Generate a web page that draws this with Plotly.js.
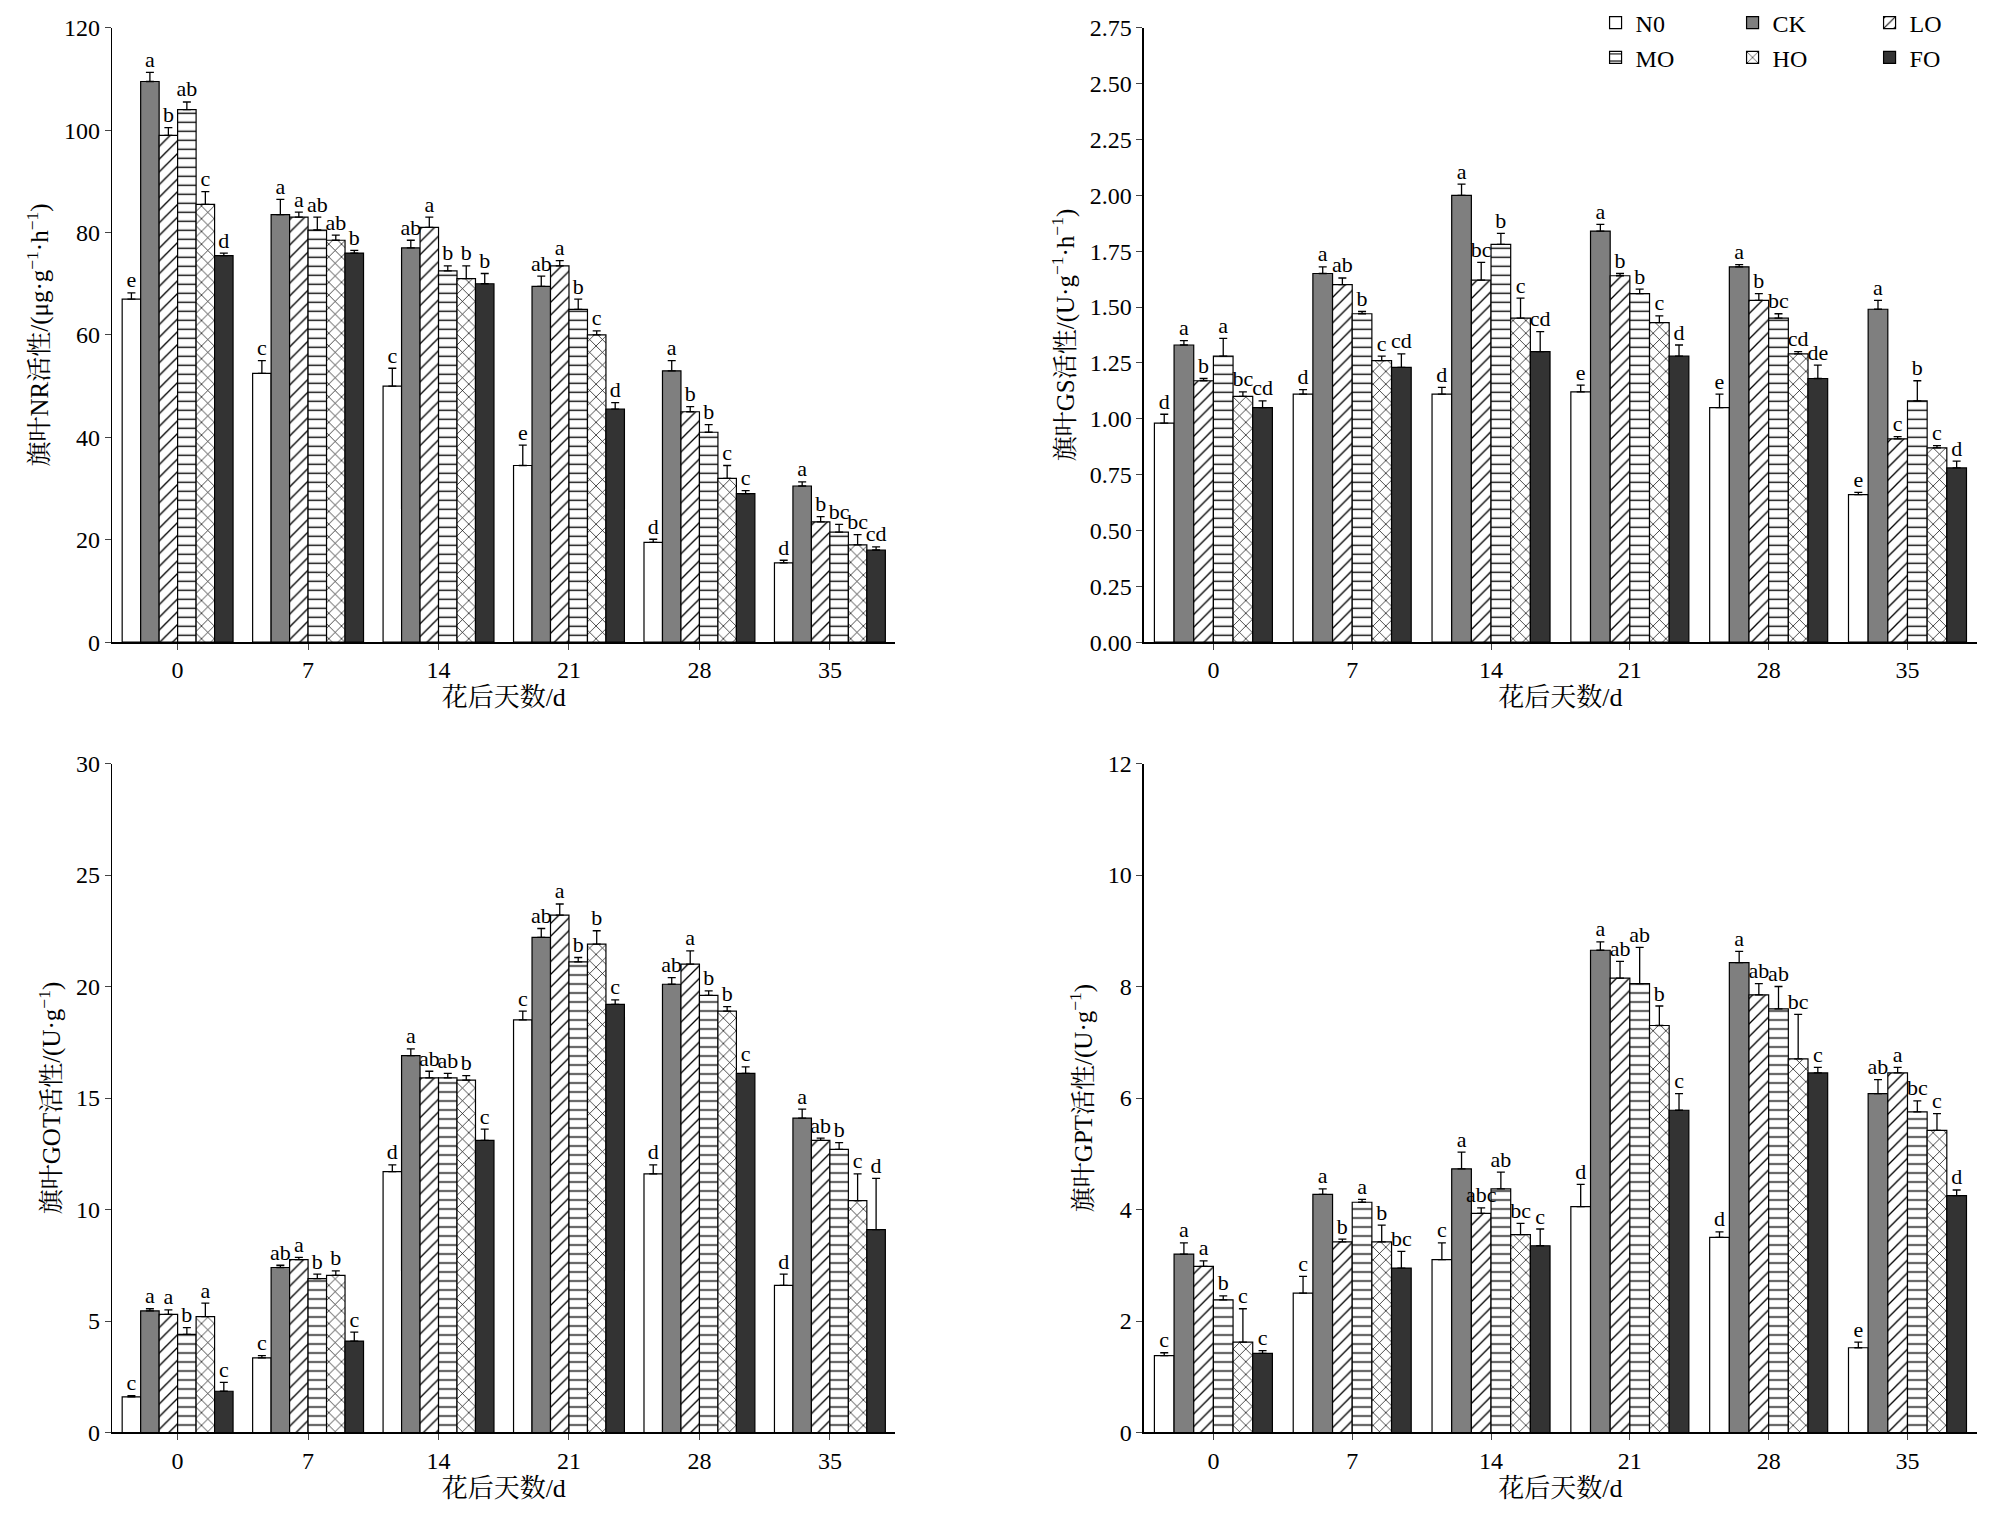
<!DOCTYPE html>
<html><head><meta charset="utf-8">
<script src="https://cdn.plot.ly/plotly-3.0.1.min.js"></script>
<style>body{margin:0;background:#fff}</style></head>
<body><div id="c" style="width:2007px;height:1522px"></div>
<script>
const days = ['0','7','14','21','28','35'];
const treatments = ['N0','CK','LO','MO','HO','FO'];

// NR
const NR_N0=[67,52.5,50,34.5,19.5,15.5], NR_CK=[109.5,83.5,77,69.5,53,30.5], NR_LO=[99,83,81,73.5,45,23.5],
      NR_MO=[104,80.5,72.5,65,41,21.5], NR_HO=[85.5,78.5,71,60,32,19], NR_FO=[75.5,76,70,45.5,29,18];
const NR_eN0=[1.2,2.5,3.5,4,0.6,0.5], NR_eCK=[1.8,3,1.5,2,2,0.8], NR_eLO=[1.5,1,2,1,1,1],
      NR_eMO=[1.5,2.5,1,2,1.5,1.5], NR_eHO=[2.5,1,2.5,0.8,2.5,2], NR_eFO=[0.5,0.5,2,1.3,0.6,0.6];
const NR_L=[['e','c','c','e','d','d'],['a','a','ab','ab','a','a'],['b','a','a','a','b','b'],['ab','ab','b','b','b','bc'],['c','ab','b','c','c','bc'],['d','b','b','d','c','cd']];
// GS
const GS_N0=[0.98,1.11,1.11,1.12,1.05,0.66], GS_CK=[1.33,1.65,2.00,1.84,1.68,1.49], GS_LO=[1.17,1.60,1.62,1.64,1.53,0.91],
      GS_MO=[1.28,1.47,1.78,1.56,1.45,1.08], GS_HO=[1.10,1.26,1.45,1.43,1.29,0.87], GS_FO=[1.05,1.23,1.30,1.28,1.18,0.78];
const GS_eN0=[0.04,0.02,0.03,0.03,0.06,0.01], GS_eCK=[0.02,0.03,0.05,0.03,0.01,0.04], GS_eLO=[0.01,0.03,0.08,0.01,0.03,0.01],
      GS_eMO=[0.08,0.01,0.05,0.02,0.02,0.09], GS_eHO=[0.02,0.02,0.09,0.03,0.01,0.01], GS_eFO=[0.03,0.06,0.09,0.05,0.06,0.03];
const GS_L=[['d','d','d','e','e','e'],['a','a','a','a','a','a'],['b','ab','bc','b','b','c'],['a','b','b','b','bc','b'],['bc','c','c','c','cd','c'],['cd','cd','cd','d','de','d']];
// GOT
const GOT_N0=[1.6,3.35,11.7,18.5,11.6,6.6], GOT_CK=[5.45,7.4,16.9,22.2,20.1,14.1], GOT_LO=[5.3,7.75,15.9,23.2,21.0,13.1],
      GOT_MO=[4.4,6.9,15.9,21.1,19.6,12.7], GOT_HO=[5.2,7.05,15.8,21.9,18.9,10.4], GOT_FO=[1.85,4.1,13.1,19.2,16.1,9.1];
const GOT_eN0=[0.05,0.1,0.3,0.4,0.4,0.5], GOT_eCK=[0.1,0.1,0.3,0.4,0.3,0.4], GOT_eLO=[0.2,0.1,0.3,0.5,0.6,0.1],
      GOT_eMO=[0.3,0.2,0.2,0.2,0.2,0.3], GOT_eHO=[0.6,0.2,0.2,0.6,0.2,1.2], GOT_eFO=[0.4,0.4,0.5,0.2,0.3,2.3];
const GOT_L=[['c','c','d','c','d','d'],['a','ab','a','ab','ab','a'],['a','a','ab','a','a','ab'],['b','b','ab','b','b','b'],['a','b','b','b','b','c'],['c','c','c','c','c','d']];
// GPT
const GPT_N0=[1.38,2.5,3.1,4.05,3.5,1.52], GPT_CK=[3.2,4.27,4.73,8.65,8.43,6.08], GPT_LO=[2.98,3.42,3.93,8.15,7.85,6.45],
      GPT_MO=[2.38,4.13,4.37,8.05,7.6,5.75], GPT_HO=[1.62,3.42,3.55,7.3,6.7,5.42], GPT_FO=[1.42,2.95,3.35,5.78,6.45,4.25];
const GPT_eN0=[0.05,0.3,0.3,0.4,0.1,0.1], GPT_eCK=[0.2,0.1,0.3,0.15,0.2,0.25], GPT_eLO=[0.1,0.05,0.1,0.3,0.2,0.1],
      GPT_eMO=[0.07,0.05,0.3,0.65,0.4,0.2], GPT_eHO=[0.6,0.3,0.2,0.35,0.8,0.3], GPT_eFO=[0.05,0.3,0.3,0.3,0.1,0.1];
const GPT_L=[['c','c','c','d','d','e'],['a','a','a','a','a','ab'],['a','b','abc','ab','ab','a'],['b','a','ab','ab','ab','bc'],['c','b','bc','b','bc','c'],['c','bc','c','c','c','d']];

const panels=[
 {vals:[NR_N0,NR_CK,NR_LO,NR_MO,NR_HO,NR_FO],err:[NR_eN0,NR_eCK,NR_eLO,NR_eMO,NR_eHO,NR_eFO],lab:NR_L,
  title:'旗叶NR活性/(μg·g<sup>−1</sup>·h<sup>−1</sup>)',range:[0,120],dtick:20,fmt:'d'},
 {vals:[GS_N0,GS_CK,GS_LO,GS_MO,GS_HO,GS_FO],err:[GS_eN0,GS_eCK,GS_eLO,GS_eMO,GS_eHO,GS_eFO],lab:GS_L,
  title:'旗叶GS活性/(U·g<sup>−1</sup>·h<sup>−1</sup>)',range:[0,2.75],dtick:0.25,fmt:'.2f'},
 {vals:[GOT_N0,GOT_CK,GOT_LO,GOT_MO,GOT_HO,GOT_FO],err:[GOT_eN0,GOT_eCK,GOT_eLO,GOT_eMO,GOT_eHO,GOT_eFO],lab:GOT_L,
  title:'旗叶GOT活性/(U·g<sup>−1</sup>)',range:[0,30],dtick:5,fmt:'d'},
 {vals:[GPT_N0,GPT_CK,GPT_LO,GPT_MO,GPT_HO,GPT_FO],err:[GPT_eN0,GPT_eCK,GPT_eLO,GPT_eMO,GPT_eHO,GPT_eFO],lab:GPT_L,
  title:'旗叶GPT活性/(U·g<sup>−1</sup>)',range:[0,12],dtick:2,fmt:'d'}
];
const colors=['#ffffff','#7f7f7f','#ffffff','#ffffff','#ffffff','#333333'];
const shapes=['','','/','-','x',''];
const FONT='"Liberation Serif","Noto Serif CJK SC","Noto Sans CJK SC",serif';
const doms={x:[[0.056,0.446],[0.570,0.985],[0.056,0.446],[0.570,0.985]],y:[[0.580,0.985],[0.580,0.985],[0.059,0.500],[0.059,0.500]]};
const data=[];const layout={width:2007,height:1522,margin:{l:0,r:0,t:0,b:0},paper_bgcolor:'#fff',plot_bgcolor:'#fff',
 barmode:'group',bargap:0.15,bargroupgap:0,scattermode:'group',scattergap:0.15,font:{family:FONT,color:'#000',size:24},
 legend:{orientation:'h',x:0.795,y:1.003,xanchor:'left',yanchor:'top',font:{size:24},entrywidth:92,traceorder:'normal',itemwidth:30},
 legend2:{orientation:'h',x:0.795,y:0.980,xanchor:'left',yanchor:'top',font:{size:24},entrywidth:92,traceorder:'normal',itemwidth:30},
 showlegend:true};
panels.forEach((p,pi)=>{
 const s=pi===0?'':String(pi+1);
 const xa='x'+s, ya='y'+s;
 layout['xaxis'+s]={type:'category',domain:doms.x[pi],anchor:ya,showline:true,linecolor:'#000',linewidth:1.5,ticks:'outside',ticklen:6,
   tickfont:{size:24},title:{text:'花后天数/d',font:{size:26},standoff:4},showgrid:false,zeroline:false};
 layout['yaxis'+s]={domain:doms.y[pi],anchor:xa,range:p.range,dtick:p.dtick,tickformat:p.fmt,showline:true,linecolor:'#000',linewidth:1.5,
   ticks:'outside',ticklen:6,tickfont:{size:24},title:{text:p.title,font:{size:25},standoff:8},showgrid:false,zeroline:false};
 treatments.forEach((t,ti)=>{
  data.push({type:'bar',x:days,y:p.vals[ti],name:t,xaxis:xa,yaxis:ya,offsetgroup:t,showlegend:pi===0,
   legend:ti<3?'legend':'legend2',
   marker:{color:colors[ti],line:{color:'#000',width:1.2},pattern:{shape:shapes[ti],fgcolor:'#000',bgcolor:'#fff',size:9,solidity:0.15}},
   error_y:{type:'data',symmetric:false,array:p.err[ti],arrayminus:p.err[ti].map(()=>0),color:'#000',thickness:1.3,width:4}});
  data.push({type:'scatter',mode:'text',x:days,y:p.vals[ti].map((v,i)=>v+p.err[ti][i]),text:p.lab[ti],textposition:'top center',
   textfont:{size:22,family:FONT},xaxis:xa,yaxis:ya,offsetgroup:t,showlegend:false,hoverinfo:'skip',cliponaxis:false});
 });
});
Plotly.newPlot('c',data,layout,{staticPlot:true});
</script></body></html>
